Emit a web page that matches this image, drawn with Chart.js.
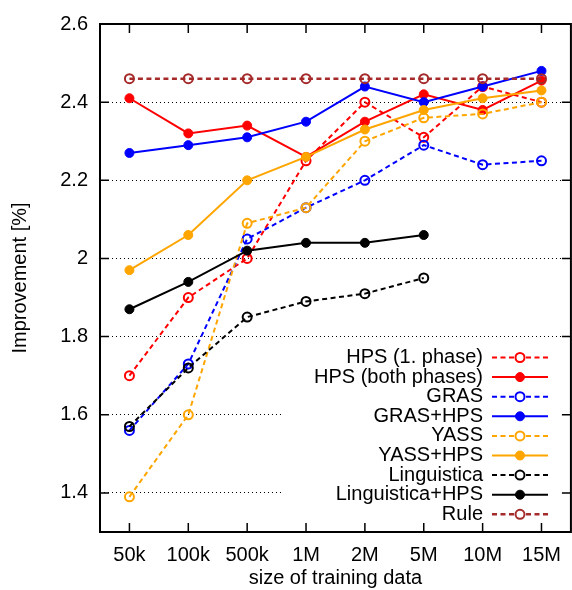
<!DOCTYPE html>
<html>
<head>
<meta charset="utf-8">
<script src="https://cdn.jsdelivr.net/npm/chart.js@4"></script>
<style>
  body { margin: 0; background: #fff; }
</style>
</head>
<body>
<canvas id="improvementChart" width="572" height="590"></canvas>
<script>
// training data sizes (x categories)
const sizes = ["50k", "100k", "500k", "1M", "2M", "5M", "10M", "15M"];
const yTicks = [1.4, 1.6, 1.8, 2, 2.2, 2.4, 2.6];

// improvement values per method
const hpsPhase1 = [1.70, 1.90, 2.00, 2.25, 2.40, 2.31, 2.44, 2.40];
const hpsBoth = [2.41, 2.32, 2.34, 2.26, 2.35, 2.42, 2.38, 2.455];
const gras = [1.56, 1.73, 2.05, 2.13, 2.20, 2.29, 2.24, 2.25];
const grasHps = [2.27, 2.29, 2.31, 2.35, 2.44, 2.40, 2.44, 2.48];
const yass = [1.39, 1.60, 2.09, 2.13, 2.30, 2.36, 2.37, 2.40];
const yassHps = [1.97, 2.06, 2.20, 2.26, 2.33, 2.38, 2.41, 2.43];
const linguistica = [1.57, 1.72, 1.85, 1.89, 1.91, 1.95, null, null];
const linguisticaHps = [1.87, 1.94, 2.02, 2.04, 2.04, 2.06, null, null];
const rule = [2.46, 2.46, 2.46, 2.46, 2.46, 2.46, 2.46, 2.46];

const FONT = "'Liberation Sans', Arial, sans-serif";
const FS = 20;
const DASH = [5, 3.5];

function series(label, data, color, dashed, width) {
  return {
    label: label,
    data: data,
    borderColor: color,
    backgroundColor: dashed ? "rgba(0,0,0,0)" : color,
    borderWidth: width || 2,
    borderDash: dashed ? DASH : [],
    pointRadius: 4.5,
    pointBorderWidth: dashed ? 2 : 1,
    pointBackgroundColor: dashed ? "rgba(0,0,0,0)" : color,
    pointBorderColor: color,
    fill: false,
    tension: 0,
  };
}

const datasets = [
  series("HPS (1. phase)", hpsPhase1, "#ff0000", true),
  series("HPS (both phases)", hpsBoth, "#ff0000", false),
  series("GRAS", gras, "#0000ff", true),
  series("GRAS+HPS", grasHps, "#0000ff", false),
  series("YASS", yass, "#ffa500", true),
  series("YASS+HPS", yassHps, "#ffa500", false),
  series("Linguistica", linguistica, "#000000", true),
  series("Linguistica+HPS", linguisticaHps, "#000000", false),
  series("Rule", rule, "#a52a2a", true, 2.5),
];
// later series on top, like gnuplot
datasets.forEach((d, i) => (d.order = datasets.length - i));

// frame, inward ticks and the key
const gnuplotLook = {
  id: "gnuplotLook",
  beforeDatasetsDraw(chart) {
    const { ctx, chartArea: a } = chart;
    // key box hides the grid behind it
    ctx.save();
    ctx.fillStyle = "#fff";
    ctx.fillRect(282, 342, a.right - 282, a.bottom - 342);
    ctx.restore();
  },
  afterDatasetsDraw(chart) {
    const { ctx, chartArea: a, scales } = chart;
    const x = scales.x, y = scales.y;
    const tl = 9;
    ctx.save();
    ctx.strokeStyle = "#000";
    ctx.lineWidth = 1.5;
    ctx.setLineDash([]);
    ctx.beginPath();
    yTicks.forEach((v) => {
      const py = y.getPixelForValue(v);
      ctx.moveTo(a.left, py); ctx.lineTo(a.left + tl, py);
      ctx.moveTo(a.right, py); ctx.lineTo(a.right - tl, py);
    });
    sizes.forEach((s, i) => {
      const px = x.getPixelForValue(i);
      ctx.moveTo(px, a.bottom); ctx.lineTo(px, a.bottom - tl);
      ctx.moveTo(px, a.top); ctx.lineTo(px, a.top + tl);
    });
    ctx.stroke();
    ctx.lineWidth = 2;
    ctx.strokeRect(a.left, a.top, a.right - a.left, a.bottom - a.top);

    // key
    ctx.font = FS + "px " + FONT;
    ctx.textAlign = "right";
    ctx.textBaseline = "middle";
    datasets.forEach((d, i) => {
      const ry = 357.5 + i * 19.6;
      ctx.fillStyle = "#000";
      ctx.fillText(d.label, 483, ry);
      ctx.strokeStyle = d.borderColor;
      ctx.lineWidth = d.borderWidth;
      ctx.setLineDash(d.borderDash);
      ctx.beginPath();
      ctx.moveTo(492, ry); ctx.lineTo(548, ry);
      ctx.stroke();
      ctx.setLineDash([]);
      ctx.beginPath();
      ctx.arc(520, ry, 4.5, 0, Math.PI * 2);
      ctx.fillStyle = d.borderDash.length ? "#fff" : d.borderColor;
      ctx.fill();
      ctx.lineWidth = d.pointBorderWidth;
      ctx.stroke();
    });
    ctx.restore();
  },
};

const ctx = document.getElementById("improvementChart").getContext("2d");
const improvementChart = new Chart(ctx, {
  type: "line",
  data: {
    labels: sizes,
    datasets: datasets,
  },
  options: {
    responsive: false,
    animation: false,
    events: [],
    layout: { autoPadding: false, padding: { top: 15.5, right: 1, left: 0, bottom: 0 } },
    plugins: {
      legend: { display: false },
      tooltip: { enabled: false },
    },
    scales: {
      x: {
        offset: true,
        grid: { display: false, drawTicks: false },
        border: { display: false },
        ticks: {
          color: "#000",
          padding: 11,
          maxRotation: 0,
          autoSkip: false,
          font: { family: FONT, size: FS },
        },
        title: {
          display: true,
          text: "size of training data",
          color: "#000",
          font: { family: FONT, size: FS },
          padding: { bottom: 0 },
        },
        afterFit(s) { s.height = 58; },
      },
      y: {
        min: 1.3,
        max: 2.6,
        grid: { color: "#000", lineWidth: 1, drawTicks: false },
        border: { display: false, dash: [1, 3] },
        ticks: {
          color: "#000",
          padding: 12,
          font: { family: FONT, size: FS },
          callback: (v) => String(v),
        },
        afterBuildTicks(s) { s.ticks = yTicks.map((v) => ({ value: v })); },
        title: {
          display: true,
          text: "Improvement [%]",
          color: "#000",
          font: { family: FONT, size: FS },
          padding: { top: 8 },
        },
        afterFit(s) { s.width = 100; },
      },
    },
  },
  plugins: [gnuplotLook],
});
</script>
</body>
</html>
